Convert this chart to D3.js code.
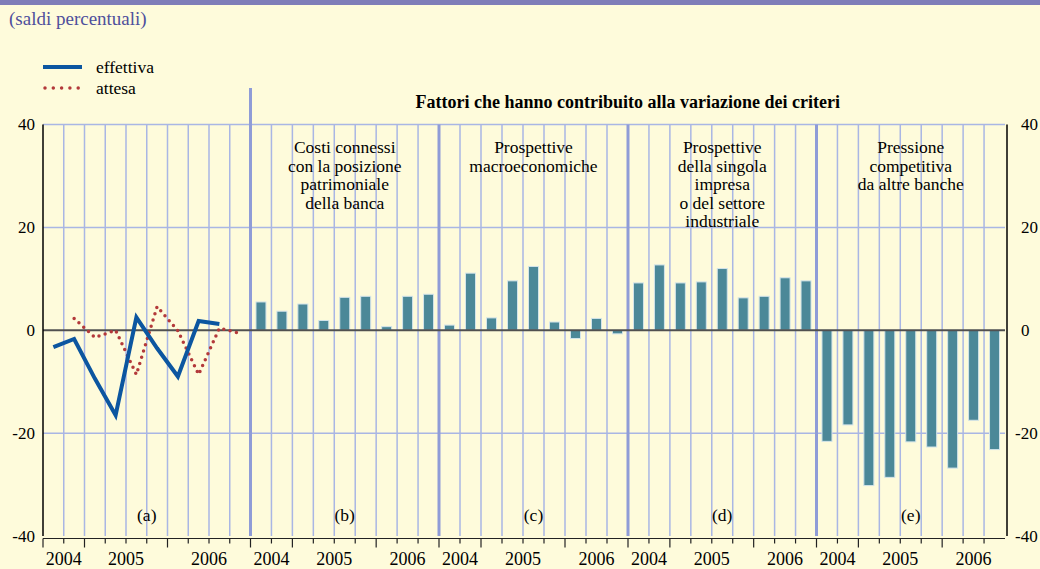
<!DOCTYPE html>
<html>
<head>
<meta charset="utf-8">
<script src="https://cdn.jsdelivr.net/npm/d3@7"></script>
<style>
	body { margin: 0; background: #fefbdb; }
	svg { display: block; }
</style>
</head>
<body>
<div class="chart"></div>
<script>
// quarters shown in each panel
var quartersLine = ['2004-Q3', '2004-Q4', '2005-Q1', '2005-Q2', '2005-Q3', '2005-Q4',
	'2006-Q1', '2006-Q2', '2006-Q3', '2006-Q4'];
var quartersBar = quartersLine.slice(0, 9);

// panel (a): criteri, saldi percentuali
var effettiva = [-3.3, -1.7, -9.4, -16.5, 2.5, -3.5, -9.0, 1.8, 1.2, null];
var attesa = [null, 2.3, -1.4, 0.0, -8.6, 4.6, -0.1, -8.6, 0.4, -0.6];

// panels (b)-(e): fattori
var costi = [5.5, 3.7, 5.1, 1.9, 6.4, 6.6, 0.7, 6.6, 7.0];
var macro = [1.0, 11.1, 2.4, 9.6, 12.4, 1.6, -1.6, 2.3, -0.7];
var impresa = [9.2, 12.7, 9.2, 9.4, 12.0, 6.3, 6.6, 10.2, 9.6];
var pressione = [-21.6, -18.4, -30.2, -28.6, -21.7, -22.7, -26.8, -17.5, -23.2];

var panelLetters = ['(a)', '(b)', '(c)', '(d)', '(e)'];
var panelTitles = [
	[],
	['Costi connessi', 'con la posizione', 'patrimoniale', 'della banca'],
	['Prospettive', 'macroeconomiche'],
	['Prospettive', 'della singola', 'impresa', 'o del settore', 'industriale'],
	['Pressione', 'competitiva', 'da altre banche']
];
var yTicks = [-40, -20, 0, 20, 40];
var gridValues = [40, 20, -20];

// chart size
var svgWidth = 1040;
var svgHeight = 569;
var plotLeft = 43, plotRight = 1005;
var plotTop = 124.5, plotBottom = 536;
var edges = [plotLeft, 250.5, 439, 628, 816.5, plotRight];

var gridColor = '#a9b6e4';
var sepColor = '#8f9cd7';
var serif = '"Liberation Serif", "Times New Roman", "DejaVu Serif", serif';

var svg = d3.select('.chart')
	.append('svg')
	.attr('width', svgWidth)
	.attr('height', svgHeight)
	.attr('font-family', serif);

svg.append('rect').attr('width', svgWidth).attr('height', svgHeight).attr('fill', '#fefbdb');
svg.append('rect').attr('width', svgWidth).attr('height', 5).attr('fill', '#7f7db8');

svg.append('text')
	.attr('x', 9).attr('y', 25)
	.attr('fill', '#4f4f9c')
	.attr('font-size', 19)
	.text('(saldi percentuali)');

var yScale = d3.scaleLinear().domain([-40, 40]).range([plotBottom, plotTop]);

// one band scale per panel
var panelQuarters = [quartersLine, quartersBar, quartersBar, quartersBar, quartersBar];
var xScales = panelQuarters.map(function(q, i) {
	return d3.scaleBand().domain(q).range([edges[i], edges[i + 1]]);
});

// horizontal grid
svg.append('g').selectAll('line')
	.data(gridValues)
	.enter()
	.append('line')
	.attr('x1', plotLeft).attr('x2', plotRight)
	.attr('y1', function(d) { return yScale(d); })
	.attr('y2', function(d) { return yScale(d); })
	.attr('stroke', gridColor)
	.attr('stroke-width', 1.5);

// vertical grid, one line per quarter
xScales.forEach(function(x, i) {
	svg.append('g').selectAll('line')
		.data(x.domain().slice(1))
		.enter()
		.append('line')
		.attr('x1', function(d) { return x(d); })
		.attr('x2', function(d) { return x(d); })
		.attr('y1', plotTop).attr('y2', plotBottom)
		.attr('stroke', gridColor)
		.attr('stroke-width', 1.5);
});

// panel separators
svg.append('g').selectAll('line')
	.data(edges.slice(1, 5))
	.enter()
	.append('line')
	.attr('x1', function(d) { return d; })
	.attr('x2', function(d) { return d; })
	.attr('y1', function(d, i) { return i === 0 ? 88 : plotTop; })
	.attr('y2', plotBottom)
	.attr('stroke', sepColor)
	.attr('stroke-width', 3);

// bars
var barSeries = [costi, macro, impresa, pressione];
barSeries.forEach(function(values, k) {
	var x = xScales[k + 1];
	svg.append('g').selectAll('rect')
		.data(values)
		.enter()
		.append('rect')
		.attr('x', function(d, i) { return x(quartersBar[i]) + x.bandwidth() / 2 - 5; })
		.attr('width', 10)
		.attr('y', function(d) { return yScale(Math.max(d, 0)); })
		.attr('height', function(d) { return Math.abs(yScale(d) - yScale(0)); })
		.attr('fill', '#4b8898')
		.attr('stroke', '#d3e4ea')
		.attr('stroke-width', 1);
});

// zero line
svg.append('line')
	.attr('x1', plotLeft).attr('x2', plotRight)
	.attr('y1', yScale(0)).attr('y2', yScale(0))
	.attr('stroke', '#505050')
	.attr('stroke-width', 2.2);

// lines in panel (a)
var xa = xScales[0];
var line = d3.line()
	.defined(function(d) { return d != null; })
	.x(function(d, i) { return xa(quartersLine[i]) + xa.bandwidth() / 2; })
	.y(function(d) { return yScale(d); });

svg.append('path')
	.datum(attesa)
	.attr('d', line)
	.attr('fill', 'none')
	.attr('stroke', '#b3393a')
	.attr('stroke-width', 3.5)
	.attr('stroke-linecap', 'round')
	.attr('stroke-dasharray', '0 6.5');

svg.append('path')
	.datum(effettiva)
	.attr('d', line)
	.attr('fill', 'none')
	.attr('stroke', '#0c56a0')
	.attr('stroke-width', 4)
	.attr('stroke-linejoin', 'miter');

// axes
svg.append('line').attr('x1', plotLeft).attr('x2', plotLeft).attr('y1', plotTop).attr('y2', plotBottom)
	.attr('stroke', '#000').attr('stroke-width', 1.5);
svg.append('line').attr('x1', plotRight + 2).attr('x2', plotRight + 2).attr('y1', plotTop).attr('y2', plotBottom)
	.attr('stroke', '#000').attr('stroke-width', 1.5);

svg.append('g').selectAll('text')
	.data(yTicks)
	.enter()
	.append('text')
	.attr('x', 35)
	.attr('y', function(d) { return yScale(d); })
	.attr('dy', '0.35em')
	.attr('text-anchor', 'end')
	.attr('font-size', 17)
	.text(function(d) { return d; });

svg.append('g').selectAll('text')
	.data(yTicks)
	.enter()
	.append('text')
	.attr('x', function(d) { return d < 0 ? 1015 : 1021; })
	.attr('y', function(d) { return yScale(d); })
	.attr('dy', '0.35em')
	.attr('font-size', 17)
	.text(function(d) { return d; });

// bottom axis with quarter and year ticks
var axisY = 538.5;
svg.append('line').attr('x1', plotLeft).attr('x2', plotRight).attr('y1', axisY).attr('y2', axisY)
	.attr('stroke', '#222').attr('stroke-width', 1.2);

xScales.forEach(function(x, i) {
	var q = x.domain();
	var g = svg.append('g');
	g.selectAll('line')
		.data(q)
		.enter()
		.append('line')
		.attr('x1', function(d) { return x(d); })
		.attr('x2', function(d) { return x(d); })
		.attr('y1', axisY)
		.attr('y2', function(d, j) {
			var newYear = j === 0 || d.slice(0, 4) !== q[j - 1].slice(0, 4);
			return axisY + (newYear ? 9 : 5);
		})
		.attr('stroke', '#222')
		.attr('stroke-width', 1.2);

	// year labels centred on their quarters
	var years = d3.groups(q, function(d) { return d.slice(0, 4); });
	g.selectAll('text')
		.data(years)
		.enter()
		.append('text')
		.attr('x', function(d) {
			return (x(d[1][0]) + x(d[1][d[1].length - 1]) + x.bandwidth()) / 2;
		})
		.attr('y', 565)
		.attr('text-anchor', 'middle')
		.attr('font-size', 18)
		.text(function(d) { return d[0]; });

	// panel letter
	svg.append('text')
		.attr('x', (edges[i] + edges[i + 1]) / 2)
		.attr('y', 521)
		.attr('text-anchor', 'middle')
		.attr('font-size', 17.5)
		.text(panelLetters[i]);

	// panel title
	svg.append('text')
		.attr('text-anchor', 'middle')
		.attr('font-size', 17.5)
		.selectAll('tspan')
		.data(panelTitles[i])
		.enter()
		.append('tspan')
		.attr('x', (edges[i] + edges[i + 1]) / 2)
		.attr('y', function(d, j) { return 153 + j * 18.5; })
		.text(function(d) { return d; });
});

// header over the factor panels
svg.append('text')
	.attr('x', (edges[1] + edges[5]) / 2)
	.attr('y', 108)
	.attr('text-anchor', 'middle')
	.attr('font-size', 18)
	.attr('font-weight', 'bold')
	.text('Fattori che hanno contribuito alla variazione dei criteri');

// legend
var legend = svg.append('g');
legend.append('line').attr('x1', 43).attr('x2', 82).attr('y1', 67).attr('y2', 67)
	.attr('stroke', '#0c56a0').attr('stroke-width', 4);
legend.append('line').attr('x1', 45).attr('x2', 82).attr('y1', 88).attr('y2', 88)
	.attr('stroke', '#b3393a').attr('stroke-width', 3.5)
	.attr('stroke-linecap', 'round').attr('stroke-dasharray', '0 8.3');
legend.append('text').attr('x', 96).attr('y', 73).attr('font-size', 17.5).text('effettiva');
legend.append('text').attr('x', 96).attr('y', 94).attr('font-size', 17.5).text('attesa');
</script>
</body>
</html>
